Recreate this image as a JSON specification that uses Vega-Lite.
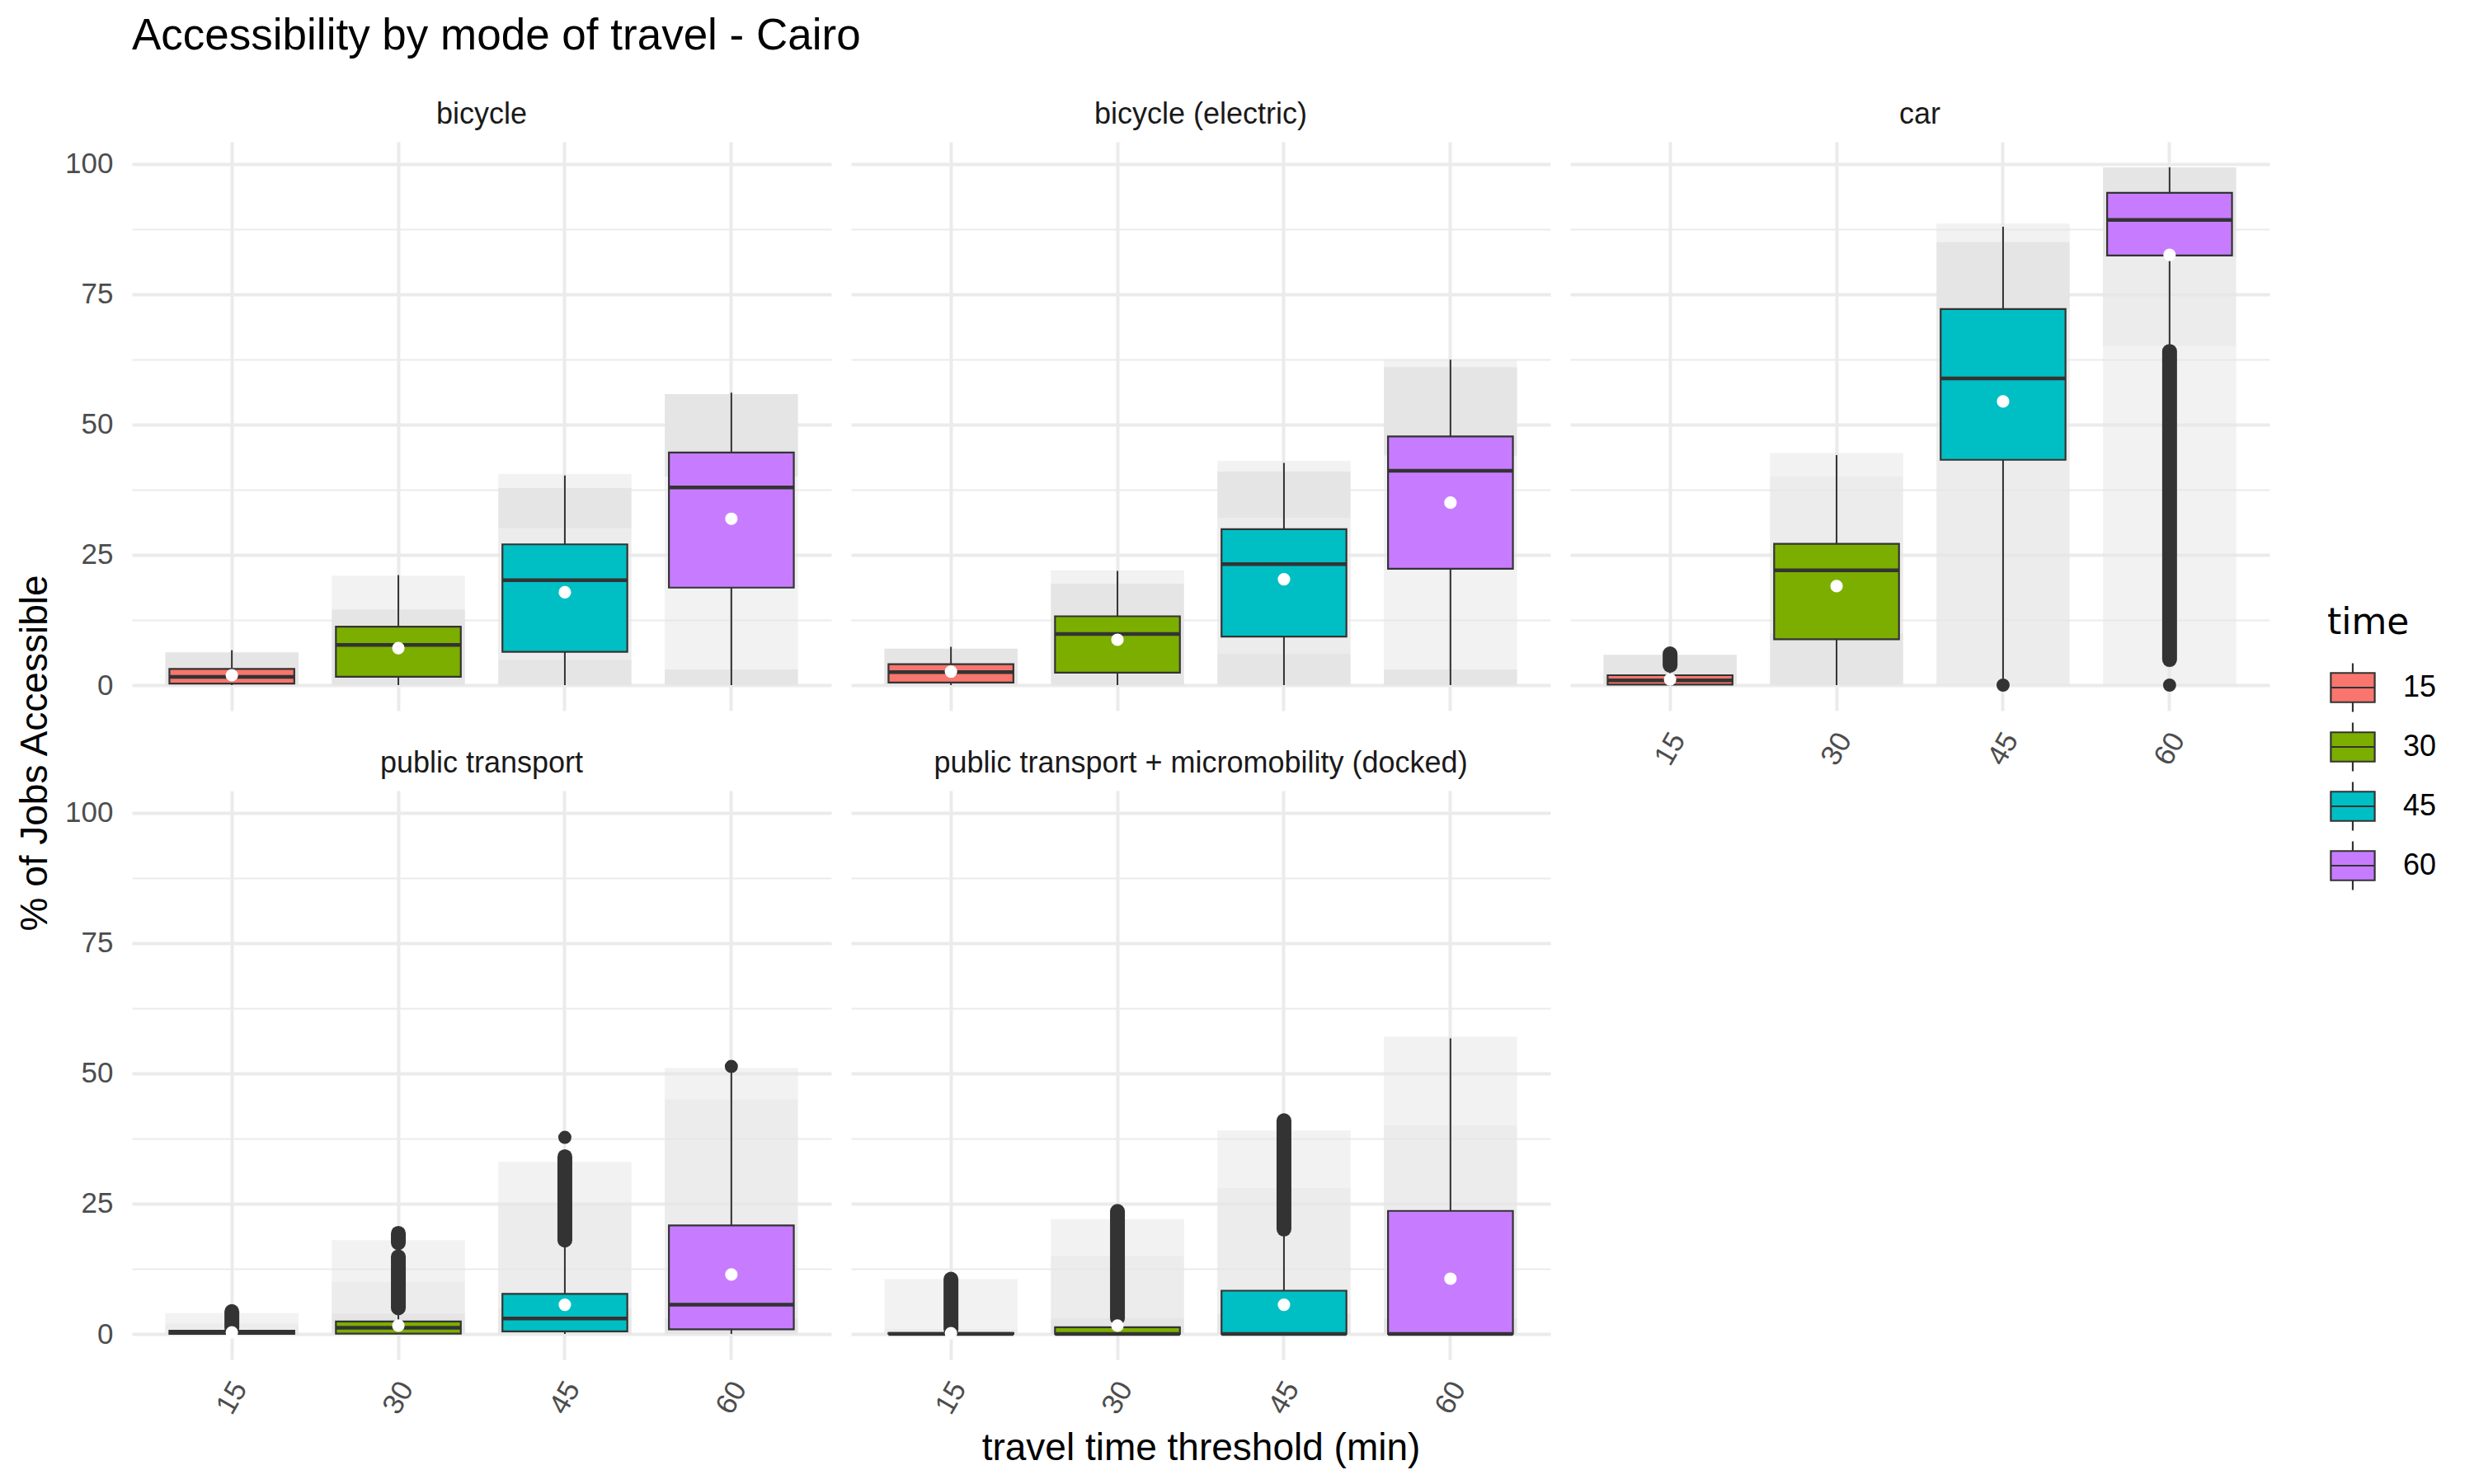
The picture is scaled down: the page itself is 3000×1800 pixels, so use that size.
{
  "$schema": "https://vega.github.io/schema/vega-lite/v6.json",
  "padding": {"left": 19, "top": 18, "right": 10, "bottom": 10},
  "title": {"text": "Accessibility by mode of travel - Cairo", "anchor": "start", "frame": "group", "fontSize": 53, "font": "Liberation Sans", "fontWeight": "normal", "color": "#000000", "offset": -3, "baseline": "bottom"},
  "data": {"values": [
    {"kind":"box","mode":"bicycle","time":"15","lo":0,"q1":0.3,"med":1.6,"q3":3.1,"hi":6.7,"mean":1.9},
    {"kind":"box","mode":"bicycle","time":"30","lo":0,"q1":1.6,"med":7.7,"q3":11.2,"hi":21.1,"mean":7.1},
    {"kind":"box","mode":"bicycle","time":"45","lo":0,"q1":6.4,"med":20.1,"q3":27.0,"hi":40.2,"mean":17.8},
    {"kind":"box","mode":"bicycle","time":"60","lo":0,"q1":18.7,"med":37.9,"q3":44.6,"hi":56.1,"mean":31.9},
    {"kind":"box","mode":"bicycle (electric)","time":"15","lo":0,"q1":0.5,"med":2.5,"q3":4.0,"hi":7.35,"mean":2.6},
    {"kind":"box","mode":"bicycle (electric)","time":"30","lo":0,"q1":2.4,"med":9.8,"q3":13.2,"hi":21.9,"mean":8.7},
    {"kind":"box","mode":"bicycle (electric)","time":"45","lo":0,"q1":9.3,"med":23.2,"q3":29.9,"hi":42.6,"mean":20.3},
    {"kind":"box","mode":"bicycle (electric)","time":"60","lo":0,"q1":22.3,"med":41.1,"q3":47.7,"hi":62.4,"mean":35.0},
    {"kind":"box","mode":"car","time":"15","lo":0,"q1":0.1,"med":0.9,"q3":1.9,"hi":3.6,"mean":1.1},
    {"kind":"box","mode":"car","time":"30","lo":0,"q1":8.8,"med":22.0,"q3":27.1,"hi":44.1,"mean":19.0},
    {"kind":"box","mode":"car","time":"45","lo":0.6,"q1":43.2,"med":58.8,"q3":72.1,"hi":87.9,"mean":54.4},
    {"kind":"box","mode":"car","time":"60","lo":64.4,"q1":82.4,"med":89.2,"q3":94.4,"hi":99.3,"mean":82.5},
    {"kind":"box","mode":"public transport","time":"15","lo":0,"q1":0,"med":0.3,"q3":0.6,"hi":1.0,"mean":0.3},
    {"kind":"box","mode":"public transport","time":"30","lo":0,"q1":0.05,"med":1.2,"q3":2.4,"hi":4.6,"mean":1.6},
    {"kind":"box","mode":"public transport","time":"45","lo":0,"q1":0.5,"med":2.95,"q3":7.7,"hi":17.3,"mean":5.6},
    {"kind":"box","mode":"public transport","time":"60","lo":0,"q1":0.9,"med":5.6,"q3":20.8,"hi":50.6,"mean":11.4},
    {"kind":"box","mode":"public transport + micromobility (docked)","time":"15","lo":0,"q1":0,"med":0,"q3":0.2,"hi":0.5,"mean":0.15},
    {"kind":"box","mode":"public transport + micromobility (docked)","time":"30","lo":0,"q1":0,"med":0,"q3":1.3,"hi":2.8,"mean":1.6},
    {"kind":"box","mode":"public transport + micromobility (docked)","time":"45","lo":0,"q1":0,"med":0,"q3":8.3,"hi":19.1,"mean":5.6},
    {"kind":"box","mode":"public transport + micromobility (docked)","time":"60","lo":0,"q1":0,"med":0,"q3":23.6,"hi":56.7,"mean":10.6},

    {"kind":"out","mode":"car","time":"15","lo":3.8,"hi":6.0},
    {"kind":"out","mode":"car","time":"60","lo":4.9,"hi":64.0},
    {"kind":"out","mode":"public transport","time":"15","lo":1.1,"hi":4.3},
    {"kind":"out","mode":"public transport","time":"30","lo":5.0,"hi":14.8},
    {"kind":"out","mode":"public transport","time":"30","lo":17.5,"hi":19.3},
    {"kind":"out","mode":"public transport","time":"45","lo":18.0,"hi":34.0},
    {"kind":"out","mode":"public transport + micromobility (docked)","time":"15","lo":0.9,"hi":10.5},
    {"kind":"out","mode":"public transport + micromobility (docked)","time":"30","lo":3.0,"hi":23.5},
    {"kind":"out","mode":"public transport + micromobility (docked)","time":"45","lo":20.1,"hi":40.9},

    {"kind":"pt","mode":"car","time":"45","v":0},
    {"kind":"pt","mode":"car","time":"60","v":0},
    {"kind":"pt","mode":"public transport","time":"45","v":37.7},
    {"kind":"pt","mode":"public transport","time":"60","v":51.3},

    {"kind":"cloud","mode":"bicycle","time":"15","lo":0,"hi":6.3,"dens":"dense"},
    {"kind":"cloud","mode":"bicycle","time":"30","lo":0,"hi":14.5,"dens":"dense"},
    {"kind":"cloud","mode":"bicycle","time":"30","lo":14.5,"hi":21,"dens":"sparse"},
    {"kind":"cloud","mode":"bicycle","time":"45","lo":0,"hi":5,"dens":"dense"},
    {"kind":"cloud","mode":"bicycle","time":"45","lo":5,"hi":30,"dens":"medium"},
    {"kind":"cloud","mode":"bicycle","time":"45","lo":30,"hi":37.8,"dens":"dense"},
    {"kind":"cloud","mode":"bicycle","time":"45","lo":37.8,"hi":40.5,"dens":"sparse"},
    {"kind":"cloud","mode":"bicycle","time":"60","lo":0,"hi":3,"dens":"dense"},
    {"kind":"cloud","mode":"bicycle","time":"60","lo":3,"hi":40,"dens":"sparse"},
    {"kind":"cloud","mode":"bicycle","time":"60","lo":40,"hi":55.8,"dens":"dense"},
    {"kind":"cloud","mode":"bicycle (electric)","time":"15","lo":0,"hi":7.0,"dens":"dense"},
    {"kind":"cloud","mode":"bicycle (electric)","time":"30","lo":0,"hi":19.5,"dens":"dense"},
    {"kind":"cloud","mode":"bicycle (electric)","time":"30","lo":19.5,"hi":22,"dens":"sparse"},
    {"kind":"cloud","mode":"bicycle (electric)","time":"45","lo":0,"hi":6,"dens":"dense"},
    {"kind":"cloud","mode":"bicycle (electric)","time":"45","lo":6,"hi":32,"dens":"medium"},
    {"kind":"cloud","mode":"bicycle (electric)","time":"45","lo":32,"hi":41,"dens":"dense"},
    {"kind":"cloud","mode":"bicycle (electric)","time":"45","lo":41,"hi":43,"dens":"sparse"},
    {"kind":"cloud","mode":"bicycle (electric)","time":"60","lo":0,"hi":3,"dens":"dense"},
    {"kind":"cloud","mode":"bicycle (electric)","time":"60","lo":3,"hi":44,"dens":"sparse"},
    {"kind":"cloud","mode":"bicycle (electric)","time":"60","lo":44,"hi":61,"dens":"dense"},
    {"kind":"cloud","mode":"bicycle (electric)","time":"60","lo":61,"hi":62.5,"dens":"sparse"},
    {"kind":"cloud","mode":"car","time":"15","lo":0,"hi":5.8,"dens":"dense"},
    {"kind":"cloud","mode":"car","time":"30","lo":0,"hi":10,"dens":"dense"},
    {"kind":"cloud","mode":"car","time":"30","lo":10,"hi":40,"dens":"medium"},
    {"kind":"cloud","mode":"car","time":"30","lo":40,"hi":44.5,"dens":"sparse"},
    {"kind":"cloud","mode":"car","time":"45","lo":0,"hi":72,"dens":"medium"},
    {"kind":"cloud","mode":"car","time":"45","lo":72,"hi":85,"dens":"dense"},
    {"kind":"cloud","mode":"car","time":"45","lo":85,"hi":88.5,"dens":"sparse"},
    {"kind":"cloud","mode":"car","time":"60","lo":0,"hi":65,"dens":"sparse"},
    {"kind":"cloud","mode":"car","time":"60","lo":65,"hi":82,"dens":"medium"},
    {"kind":"cloud","mode":"car","time":"60","lo":82,"hi":99.3,"dens":"dense"},
    {"kind":"cloud","mode":"public transport","time":"15","lo":0,"hi":2,"dens":"medium"},
    {"kind":"cloud","mode":"public transport","time":"15","lo":2,"hi":4,"dens":"sparse"},
    {"kind":"cloud","mode":"public transport","time":"30","lo":0,"hi":4,"dens":"dense"},
    {"kind":"cloud","mode":"public transport","time":"30","lo":4,"hi":10,"dens":"medium"},
    {"kind":"cloud","mode":"public transport","time":"30","lo":10,"hi":18,"dens":"sparse"},
    {"kind":"cloud","mode":"public transport","time":"45","lo":0,"hi":5,"dens":"dense"},
    {"kind":"cloud","mode":"public transport","time":"45","lo":5,"hi":25,"dens":"medium"},
    {"kind":"cloud","mode":"public transport","time":"45","lo":25,"hi":33,"dens":"sparse"},
    {"kind":"cloud","mode":"public transport","time":"60","lo":0,"hi":3,"dens":"dense"},
    {"kind":"cloud","mode":"public transport","time":"60","lo":3,"hi":45,"dens":"medium"},
    {"kind":"cloud","mode":"public transport","time":"60","lo":45,"hi":51,"dens":"sparse"},
    {"kind":"cloud","mode":"public transport + micromobility (docked)","time":"15","lo":0,"hi":1,"dens":"medium"},
    {"kind":"cloud","mode":"public transport + micromobility (docked)","time":"15","lo":1,"hi":10.5,"dens":"sparse"},
    {"kind":"cloud","mode":"public transport + micromobility (docked)","time":"30","lo":0,"hi":3,"dens":"dense"},
    {"kind":"cloud","mode":"public transport + micromobility (docked)","time":"30","lo":3,"hi":15,"dens":"medium"},
    {"kind":"cloud","mode":"public transport + micromobility (docked)","time":"30","lo":15,"hi":22,"dens":"sparse"},
    {"kind":"cloud","mode":"public transport + micromobility (docked)","time":"45","lo":0,"hi":4,"dens":"dense"},
    {"kind":"cloud","mode":"public transport + micromobility (docked)","time":"45","lo":4,"hi":28,"dens":"medium"},
    {"kind":"cloud","mode":"public transport + micromobility (docked)","time":"45","lo":28,"hi":39,"dens":"sparse"},
    {"kind":"cloud","mode":"public transport + micromobility (docked)","time":"60","lo":0,"hi":3,"dens":"dense"},
    {"kind":"cloud","mode":"public transport + micromobility (docked)","time":"60","lo":3,"hi":40,"dens":"medium"},
    {"kind":"cloud","mode":"public transport + micromobility (docked)","time":"60","lo":40,"hi":57,"dens":"sparse"}
  ]},
  "columns": 3,
  "spacing": {"column": 24, "row": 97},
  "bounds": "flush",
  "resolve": {"scale": {"fill": "shared", "opacity": "shared"}, "legend": {"fill": "shared"}},
  "concat": [
    {
      "title": {"text": "bicycle"},
      "width": 848, "height": 690,
      "transform": [{"filter": "datum.mode === 'bicycle'"}],
      "encoding": {"x": {"field": "time", "type": "nominal", "sort": ["15","30","45","60"], "scale": {"paddingInner": 0, "paddingOuter": 0.1}, "axis": {"labels": false, "title": null}}},
      "layer": [
        {"transform": [{"filter": "datum.kind === 'cloud'"}], "mark": {"type": "bar", "width": {"band": 0.8}, "color": "#E5E5E5"},
         "encoding": {"y": {"field": "lo", "type": "quantitative", "scale": {"domain": [-4.9, 104.19], "nice": false, "zero": false},
                            "axis": {"title": "% of Jobs Accessible", "titleY": 741, "labels": true, "values": [0,12.5,25,37.5,50,62.5,75,87.5,100], "labelExpr": "datum.value % 25 === 0 ? datum.label : ''", "gridWidth": {"condition": {"test": "datum.value % 25 === 0", "value": 4}, "value": 2}}},
                      "y2": {"field": "hi"},
                      "opacity": {"field": "dens", "type": "ordinal", "scale": {"domain": ["dense","medium","sparse"], "range": [1, 0.5, 0.25]}, "legend": null}}},
        {"transform": [{"filter": "datum.kind === 'box'"}], "mark": {"type": "rule", "color": "#333333", "strokeWidth": 2}, "encoding": {"y": {"field": "lo", "type": "quantitative"}, "y2": {"field": "hi"}}},
        {"transform": [{"filter": "datum.kind === 'box'"}], "mark": {"type": "bar", "width": {"band": 0.75}, "stroke": "#333333", "strokeWidth": 2.2, "opacity": 1},
         "encoding": {"y": {"field": "q1", "type": "quantitative"}, "y2": {"field": "q3"},
                      "fill": {"field": "time", "type": "nominal", "scale": {"domain": ["15","30","45","60"], "range": ["#F8766D","#7CAE00","#00BFC4","#C77CFF"]},
                               "legend": {"title": "time", "orient": "none", "legendX": 2662, "legendY": 562,
                                          "symbolType": "M-0.9,-0.6H0.9V0.6H-0.9Z M-0.9,0H0.9 M0,-0.6V-1 M0,0.6V1",
                                          "symbolSize": 3500, "symbolStrokeColor": "#333333", "symbolStrokeWidth": 2.2, "symbolOpacity": 1,
                                          "labelFontSize": 36, "labelFont": "Liberation Sans", "labelColor": "#000000", "labelOffset": 30,
                                          "titleFontSize": 44, "titleFont": "DejaVu Sans", "titleFontWeight": "normal", "titleColor": "#000000", "titlePadding": 25,
                                          "rowPadding": 4}}}},
        {"transform": [{"filter": "datum.kind === 'box'"}], "mark": {"type": "tick", "orient": "horizontal", "size": 151.5, "thickness": 4.5, "color": "#333333", "opacity": 1}, "encoding": {"y": {"field": "med", "type": "quantitative"}}},
        {"transform": [{"filter": "datum.kind === 'out'"}], "mark": {"type": "rule", "color": "#333333", "strokeWidth": 18, "strokeCap": "round"}, "encoding": {"y": {"field": "lo", "type": "quantitative"}, "y2": {"field": "hi"}}},
        {"transform": [{"filter": "datum.kind === 'pt'"}], "mark": {"type": "circle", "color": "#333333", "size": 254, "opacity": 1}, "encoding": {"y": {"field": "v", "type": "quantitative"}}},
        {"transform": [{"filter": "datum.kind === 'box'"}], "mark": {"type": "circle", "color": "#FFFFFF", "size": 230, "opacity": 1}, "encoding": {"y": {"field": "mean", "type": "quantitative"}}}
      ]
    },
    {
      "title": {"text": "bicycle (electric)"},
      "width": 848, "height": 690,
      "transform": [{"filter": "datum.mode === 'bicycle (electric)'"}],
      "encoding": {"x": {"field": "time", "type": "nominal", "sort": ["15","30","45","60"], "scale": {"paddingInner": 0, "paddingOuter": 0.1}, "axis": {"labels": false, "title": null}}},
      "layer": [
        {"transform": [{"filter": "datum.kind === 'cloud'"}], "mark": {"type": "bar", "width": {"band": 0.8}, "color": "#E5E5E5"},
         "encoding": {"y": {"field": "lo", "type": "quantitative", "scale": {"domain": [-4.9, 104.19], "nice": false, "zero": false},
                            "axis": {"title": null, "labels": false, "values": [0,12.5,25,37.5,50,62.5,75,87.5,100], "gridWidth": {"condition": {"test": "datum.value % 25 === 0", "value": 4}, "value": 2}}},
                      "y2": {"field": "hi"},
                      "opacity": {"field": "dens", "type": "ordinal", "scale": {"domain": ["dense","medium","sparse"], "range": [1, 0.5, 0.25]}, "legend": null}}},
        {"transform": [{"filter": "datum.kind === 'box'"}], "mark": {"type": "rule", "color": "#333333", "strokeWidth": 2}, "encoding": {"y": {"field": "lo", "type": "quantitative"}, "y2": {"field": "hi"}}},
        {"transform": [{"filter": "datum.kind === 'box'"}], "mark": {"type": "bar", "width": {"band": 0.75}, "stroke": "#333333", "strokeWidth": 2.2, "opacity": 1},
         "encoding": {"y": {"field": "q1", "type": "quantitative"}, "y2": {"field": "q3"},
                      "fill": {"field": "time", "type": "nominal", "scale": {"domain": ["15","30","45","60"], "range": ["#F8766D","#7CAE00","#00BFC4","#C77CFF"]}}}},
        {"transform": [{"filter": "datum.kind === 'box'"}], "mark": {"type": "tick", "orient": "horizontal", "size": 151.5, "thickness": 4.5, "color": "#333333", "opacity": 1}, "encoding": {"y": {"field": "med", "type": "quantitative"}}},
        {"transform": [{"filter": "datum.kind === 'out'"}], "mark": {"type": "rule", "color": "#333333", "strokeWidth": 18, "strokeCap": "round"}, "encoding": {"y": {"field": "lo", "type": "quantitative"}, "y2": {"field": "hi"}}},
        {"transform": [{"filter": "datum.kind === 'pt'"}], "mark": {"type": "circle", "color": "#333333", "size": 254, "opacity": 1}, "encoding": {"y": {"field": "v", "type": "quantitative"}}},
        {"transform": [{"filter": "datum.kind === 'box'"}], "mark": {"type": "circle", "color": "#FFFFFF", "size": 230, "opacity": 1}, "encoding": {"y": {"field": "mean", "type": "quantitative"}}}
      ]
    },
    {
      "title": {"text": "car"},
      "width": 848, "height": 690,
      "transform": [{"filter": "datum.mode === 'car'"}],
      "encoding": {"x": {"field": "time", "type": "nominal", "sort": ["15","30","45","60"], "scale": {"paddingInner": 0, "paddingOuter": 0.1}, "axis": {"labels": true, "title": null}}},
      "layer": [
        {"transform": [{"filter": "datum.kind === 'cloud'"}], "mark": {"type": "bar", "width": {"band": 0.8}, "color": "#E5E5E5"},
         "encoding": {"y": {"field": "lo", "type": "quantitative", "scale": {"domain": [-4.9, 104.19], "nice": false, "zero": false},
                            "axis": {"title": null, "labels": false, "values": [0,12.5,25,37.5,50,62.5,75,87.5,100], "gridWidth": {"condition": {"test": "datum.value % 25 === 0", "value": 4}, "value": 2}}},
                      "y2": {"field": "hi"},
                      "opacity": {"field": "dens", "type": "ordinal", "scale": {"domain": ["dense","medium","sparse"], "range": [1, 0.5, 0.25]}, "legend": null}}},
        {"transform": [{"filter": "datum.kind === 'box'"}], "mark": {"type": "rule", "color": "#333333", "strokeWidth": 2}, "encoding": {"y": {"field": "lo", "type": "quantitative"}, "y2": {"field": "hi"}}},
        {"transform": [{"filter": "datum.kind === 'box'"}], "mark": {"type": "bar", "width": {"band": 0.75}, "stroke": "#333333", "strokeWidth": 2.2, "opacity": 1},
         "encoding": {"y": {"field": "q1", "type": "quantitative"}, "y2": {"field": "q3"},
                      "fill": {"field": "time", "type": "nominal", "scale": {"domain": ["15","30","45","60"], "range": ["#F8766D","#7CAE00","#00BFC4","#C77CFF"]}}}},
        {"transform": [{"filter": "datum.kind === 'box'"}], "mark": {"type": "tick", "orient": "horizontal", "size": 151.5, "thickness": 4.5, "color": "#333333", "opacity": 1}, "encoding": {"y": {"field": "med", "type": "quantitative"}}},
        {"transform": [{"filter": "datum.kind === 'out'"}], "mark": {"type": "rule", "color": "#333333", "strokeWidth": 18, "strokeCap": "round"}, "encoding": {"y": {"field": "lo", "type": "quantitative"}, "y2": {"field": "hi"}}},
        {"transform": [{"filter": "datum.kind === 'pt'"}], "mark": {"type": "circle", "color": "#333333", "size": 254, "opacity": 1}, "encoding": {"y": {"field": "v", "type": "quantitative"}}},
        {"transform": [{"filter": "datum.kind === 'box'"}], "mark": {"type": "circle", "color": "#FFFFFF", "size": 230, "opacity": 1}, "encoding": {"y": {"field": "mean", "type": "quantitative"}}}
      ]
    },
    {
      "title": {"text": "public transport"},
      "width": 848, "height": 690,
      "transform": [{"filter": "datum.mode === 'public transport'"}],
      "encoding": {"x": {"field": "time", "type": "nominal", "sort": ["15","30","45","60"], "scale": {"paddingInner": 0, "paddingOuter": 0.1}, "axis": {"labels": true, "title": null}}},
      "layer": [
        {"transform": [{"filter": "datum.kind === 'cloud'"}], "mark": {"type": "bar", "width": {"band": 0.8}, "color": "#E5E5E5"},
         "encoding": {"y": {"field": "lo", "type": "quantitative", "scale": {"domain": [-4.9, 104.19], "nice": false, "zero": false},
                            "axis": {"title": null, "labels": true, "values": [0,12.5,25,37.5,50,62.5,75,87.5,100], "labelExpr": "datum.value % 25 === 0 ? datum.label : ''", "gridWidth": {"condition": {"test": "datum.value % 25 === 0", "value": 4}, "value": 2}}},
                      "y2": {"field": "hi"},
                      "opacity": {"field": "dens", "type": "ordinal", "scale": {"domain": ["dense","medium","sparse"], "range": [1, 0.5, 0.25]}, "legend": null}}},
        {"transform": [{"filter": "datum.kind === 'box'"}], "mark": {"type": "rule", "color": "#333333", "strokeWidth": 2}, "encoding": {"y": {"field": "lo", "type": "quantitative"}, "y2": {"field": "hi"}}},
        {"transform": [{"filter": "datum.kind === 'box'"}], "mark": {"type": "bar", "width": {"band": 0.75}, "stroke": "#333333", "strokeWidth": 2.2, "opacity": 1},
         "encoding": {"y": {"field": "q1", "type": "quantitative"}, "y2": {"field": "q3"},
                      "fill": {"field": "time", "type": "nominal", "scale": {"domain": ["15","30","45","60"], "range": ["#F8766D","#7CAE00","#00BFC4","#C77CFF"]}}}},
        {"transform": [{"filter": "datum.kind === 'box'"}], "mark": {"type": "tick", "orient": "horizontal", "size": 151.5, "thickness": 4.5, "color": "#333333", "opacity": 1}, "encoding": {"y": {"field": "med", "type": "quantitative"}}},
        {"transform": [{"filter": "datum.kind === 'out'"}], "mark": {"type": "rule", "color": "#333333", "strokeWidth": 18, "strokeCap": "round"}, "encoding": {"y": {"field": "lo", "type": "quantitative"}, "y2": {"field": "hi"}}},
        {"transform": [{"filter": "datum.kind === 'pt'"}], "mark": {"type": "circle", "color": "#333333", "size": 254, "opacity": 1}, "encoding": {"y": {"field": "v", "type": "quantitative"}}},
        {"transform": [{"filter": "datum.kind === 'box'"}], "mark": {"type": "circle", "color": "#FFFFFF", "size": 230, "opacity": 1}, "encoding": {"y": {"field": "mean", "type": "quantitative"}}}
      ]
    },
    {
      "title": {"text": "public transport + micromobility (docked)"},
      "width": 848, "height": 690,
      "transform": [{"filter": "datum.mode === 'public transport + micromobility (docked)'"}],
      "encoding": {"x": {"field": "time", "type": "nominal", "sort": ["15","30","45","60"], "scale": {"paddingInner": 0, "paddingOuter": 0.1}, "axis": {"labels": true, "title": "travel time threshold (min)"}}},
      "layer": [
        {"transform": [{"filter": "datum.kind === 'cloud'"}], "mark": {"type": "bar", "width": {"band": 0.8}, "color": "#E5E5E5"},
         "encoding": {"y": {"field": "lo", "type": "quantitative", "scale": {"domain": [-4.9, 104.19], "nice": false, "zero": false},
                            "axis": {"title": null, "labels": false, "values": [0,12.5,25,37.5,50,62.5,75,87.5,100], "gridWidth": {"condition": {"test": "datum.value % 25 === 0", "value": 4}, "value": 2}}},
                      "y2": {"field": "hi"},
                      "opacity": {"field": "dens", "type": "ordinal", "scale": {"domain": ["dense","medium","sparse"], "range": [1, 0.5, 0.25]}, "legend": null}}},
        {"transform": [{"filter": "datum.kind === 'box'"}], "mark": {"type": "rule", "color": "#333333", "strokeWidth": 2}, "encoding": {"y": {"field": "lo", "type": "quantitative"}, "y2": {"field": "hi"}}},
        {"transform": [{"filter": "datum.kind === 'box'"}], "mark": {"type": "bar", "width": {"band": 0.75}, "stroke": "#333333", "strokeWidth": 2.2, "opacity": 1},
         "encoding": {"y": {"field": "q1", "type": "quantitative"}, "y2": {"field": "q3"},
                      "fill": {"field": "time", "type": "nominal", "scale": {"domain": ["15","30","45","60"], "range": ["#F8766D","#7CAE00","#00BFC4","#C77CFF"]}}}},
        {"transform": [{"filter": "datum.kind === 'box'"}], "mark": {"type": "tick", "orient": "horizontal", "size": 151.5, "thickness": 4.5, "color": "#333333", "opacity": 1}, "encoding": {"y": {"field": "med", "type": "quantitative"}}},
        {"transform": [{"filter": "datum.kind === 'out'"}], "mark": {"type": "rule", "color": "#333333", "strokeWidth": 18, "strokeCap": "round"}, "encoding": {"y": {"field": "lo", "type": "quantitative"}, "y2": {"field": "hi"}}},
        {"transform": [{"filter": "datum.kind === 'pt'"}], "mark": {"type": "circle", "color": "#333333", "size": 254, "opacity": 1}, "encoding": {"y": {"field": "v", "type": "quantitative"}}},
        {"transform": [{"filter": "datum.kind === 'box'"}], "mark": {"type": "circle", "color": "#FFFFFF", "size": 230, "opacity": 1}, "encoding": {"y": {"field": "mean", "type": "quantitative"}}}
      ]
    }
  ],
  "config": {
    "view": {"stroke": null},
    "font": "Liberation Sans",
    "title": {"fontSize": 36, "font": "Liberation Sans", "fontWeight": "normal", "color": "#1A1A1A", "anchor": "middle", "frame": "group", "offset": 14, "baseline": "alphabetic"},
    "axis": {"domain": false, "ticks": false, "grid": true, "gridColor": "#EBEBEB", "labelFont": "Liberation Sans", "titleFont": "Liberation Sans", "labelFontSize": 35, "labelColor": "#4D4D4D", "titleFontSize": 46, "titleFontWeight": "normal", "titleColor": "#000000"},
    "axisX": {"labelAngle": -60, "labelAlign": "center", "labelBaseline": "middle", "labelPadding": 46, "gridWidth": 4, "bandPosition": 0.5, "titlePadding": 14},
    "axisY": {"labelPadding": 23, "titlePadding": 12}
  }
}
